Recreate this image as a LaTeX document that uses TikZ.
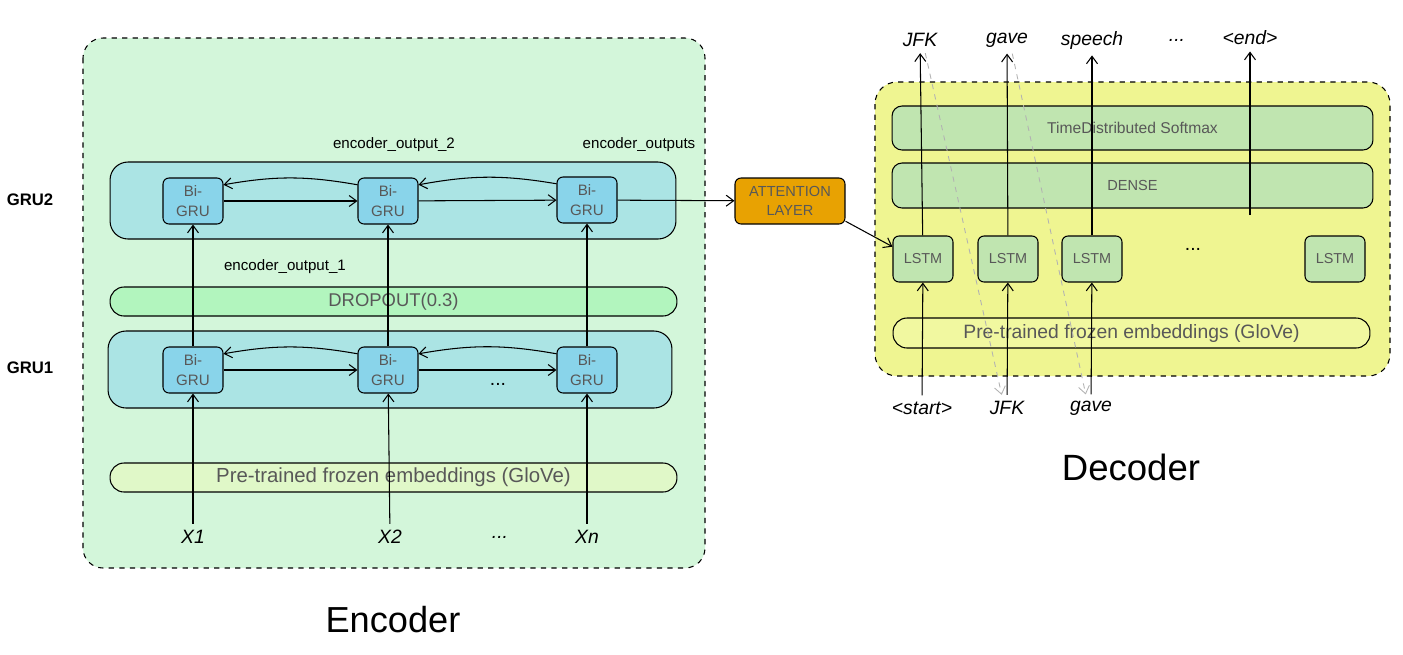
\documentclass[tikz,border=0pt]{standalone}
\usepackage{fontspec}
\setmainfont{Liberation Sans}
\usetikzlibrary{arrows.meta,positioning}
\definecolor{encbg}{RGB}{211,246,218}
\definecolor{grubox}{RGB}{171,228,228}
\definecolor{grucell}{RGB}{137,212,234}
\definecolor{dropfill}{RGB}{178,245,190}
\definecolor{embfill}{RGB}{224,248,200}
\definecolor{decbg}{RGB}{239,245,145}
\definecolor{decfill}{RGB}{192,229,176}
\definecolor{decemb}{RGB}{241,248,160}
\definecolor{attfill}{RGB}{232,162,2}
\definecolor{txtgray}{RGB}{88,88,88}

\begin{document}
\begin{tikzpicture}[x=0.02cm, y=-0.02cm, line width=0.6pt,
        >={Straight Barb[length=1.5mm,width=2.2mm]},
        cell/.style={draw, rounded corners=0.12cm, minimum width=1.2cm, minimum height=0.92cm,
            inner sep=0pt, align=center, text=txtgray, font=\fontsize{8.6}{11}\selectfont},
        band/.style={draw, rounded corners=0.28cm, inner sep=0pt, text=txtgray},
        word/.style={font=\fontsize{11}{13}\selectfont\itshape},
        small/.style={font=\fontsize{8.6}{10}\selectfont}]
        \useasboundingbox (0,0) rectangle (1403,654);

        % encoder
        \draw[dashed, fill=encbg, rounded corners=0.4cm] (83,38) rectangle (705,568);
        \node[band, rounded corners=0.36cm, fill=grubox, minimum width=11.32cm, minimum height=1.54cm] (gru2box) at (393,200.5) {};
        \node[band, rounded corners=0.36cm, fill=grubox, minimum width=11.28cm, minimum height=1.54cm] (gru1box) at (390,369.5) {};
        \node[band, fill=dropfill, minimum width=11.34cm, minimum height=0.58cm, font=\fontsize{10.5}{12}\selectfont] (drop) at (393.5,301.5) {DROPOUT(0.3)};
        \node[band, fill=embfill, minimum width=11.34cm, minimum height=0.58cm, font=\fontsize{11.6}{13}\selectfont] (encemb) at (393.5,477.5) {Pre-trained frozen embeddings (GloVe)};

        \node[font=\fontsize{9.5}{11}\selectfont\bfseries] (gru2lbl) at (30,200) {GRU2};
        \node[font=\fontsize{9.5}{11}\selectfont\bfseries] (gru1lbl) at (30,368) {GRU1};
        \node[small] (eo2) at (394,145) {encoder\_output\_2};
        \node[small] (eos) at (639,145) {encoder\_outputs};
        \node[small] (eo1) at (285,267) {encoder\_output\_1};

        \node[cell, fill=grucell] (t1) at (193,201) {Bi-\\GRU};
        \node[cell, fill=grucell] (t2) at (388,201) {Bi-\\GRU};
        \node[cell, fill=grucell] (t3) at (587,200) {Bi-\\GRU};
        \node[cell, fill=grucell] (b1) at (193,370) {Bi-\\GRU};
        \node[cell, fill=grucell] (b2) at (388,370) {Bi-\\GRU};
        \node[cell, fill=grucell] (b3) at (587,370) {Bi-\\GRU};
        \node[font=\fontsize{11}{13}\selectfont] (bdots) at (498,384) {...};

        \node[word] (x1) at (193,537) {X1};
        \node[word] (x2) at (390,537) {X2};
        \node[word] (xdots) at (500,537) {...};
        \node[word] (xn) at (587,537) {Xn};

        \foreach \a/\b in {t1/t2,t2/t3,b1/b2,b2/b3} {
            \draw[->] (\a) -- (\b);
            \draw[->] (\b.152) to[bend right=10] (\a.28);
        }
        \draw[->] (b1) -- (t1);
        \draw[->] (b2) -- (t2);
        \draw[->] (b3) -- (t3);
        \draw[->] (x1) -- (b1);
        \draw[->] (x2) -- (b2);
        \draw[->] (xn) -- (b3);

        \node[font=\fontsize{20.6}{24}\selectfont] (enclbl) at (393,620) {Encoder};

        % attention
        \node[cell, fill=attfill, minimum width=2.2cm, font=\fontsize{8.3}{11}\selectfont] (att) at (790,201) {ATTENTION\\LAYER};
        \draw[->] (t3) -- (att);

        % decoder
        \draw[dashed, fill=decbg, rounded corners=0.44cm] (875,82) rectangle (1390,376);
        \node[band, rounded corners=0.2cm, fill=decfill, minimum width=9.62cm, minimum height=0.88cm, font=\fontsize{8.9}{10}\selectfont] (soft) at (1132.5,128) {TimeDistributed Softmax};
        \node[band, rounded corners=0.2cm, fill=decfill, minimum width=9.62cm, minimum height=0.9cm, font=\fontsize{8.3}{10}\selectfont] (dense) at (1132.5,185.5) {DENSE};
        \node[band, fill=decemb, minimum width=9.54cm, minimum height=0.6cm, font=\fontsize{11}{13}\selectfont] (decemb) at (1131.5,333) {Pre-trained frozen embeddings (GloVe)};

        \node[cell, fill=decfill, font=\fontsize{8.2}{10}\selectfont] (l1) at (923,259) {LSTM};
        \node[cell, fill=decfill, font=\fontsize{8.2}{10}\selectfont] (l2) at (1008,259) {LSTM};
        \node[cell, fill=decfill, font=\fontsize{8.2}{10}\selectfont] (l3) at (1092,259) {LSTM};
        \node[cell, fill=decfill, font=\fontsize{8.2}{10}\selectfont] (l4) at (1335,259) {LSTM};
        \node[font=\fontsize{11}{13}\selectfont] (ldots) at (1193,249) {...};

        \node[word] (s1) at (922,408) {<start>};
        \node[word] (s2) at (1007,408) {JFK};
        \node[word] (s3) at (1091,408) {gave};
        \node[word] (o1) at (920,40) {JFK};
        \node[word] (o2) at (1007,40) {gave};
        \node[word] (o3) at (1092,40) {speech};
        \node[word] (odots) at (1177,40) {...};
        \node[word] (o5) at (1250,38) {<end>};
        \coordinate (endfoot) at (1250,215);

        \draw[->] (att.-20) -- (l1.158);
        \draw[->] (s1) -- (l1);
        \draw[->] (s2) -- (l2);
        \draw[->] (s3) -- (l3);
        \draw[->] (l1) -- (o1);
        \draw[->] (l2) -- (o2);
        \draw[->] (l3) -- (o3);
        \draw[->] (endfoot) -- (o5);
        \draw[->, dashed, gray!60, line width=0.5pt] ([xshift=3pt]o1.south) -- ([xshift=-3pt]s2.north);
        \draw[->, dashed, gray!60, line width=0.5pt] ([xshift=3pt]o2.south) -- ([xshift=-3pt]s3.north);

        \node[font=\fontsize{20.8}{24}\selectfont] (declbl) at (1131,467) {Decoder};
\end{tikzpicture}
\end{document}
